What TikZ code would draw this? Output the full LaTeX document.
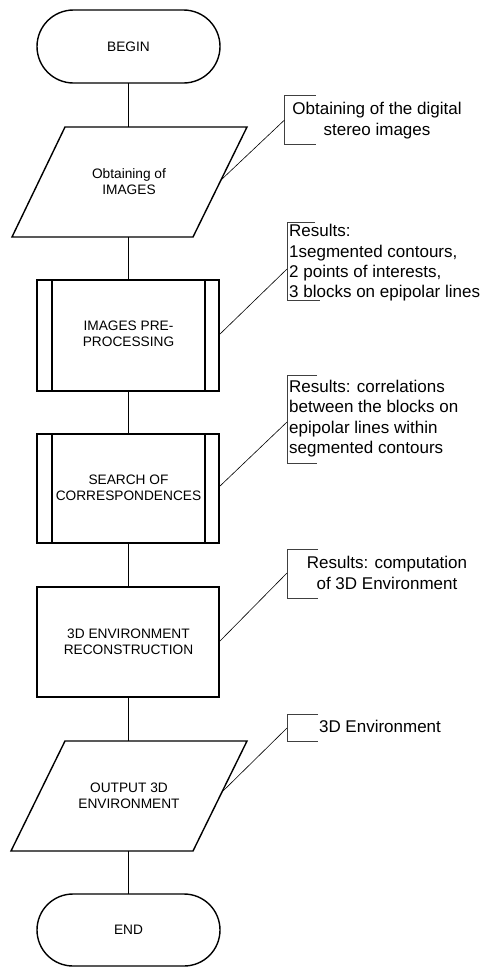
\documentclass[tikz,border=0pt]{standalone}
\usepackage{fontspec}
\setmainfont{Liberation Sans}
\begin{document}
\begin{tikzpicture}[x=1pt,y=-1pt,
  shapeline/.style={line width=1.4pt, line join=miter},
  flowline/.style={line width=1.4pt},
  leader/.style={line width=0.6pt},
  bracket/.style={line width=0.8pt, draw=black!75},
  flowtext/.style={font=\fontsize{13.7}{16}\selectfont, align=center, inner sep=0pt},
  notetext/.style={font=\fontsize{17}{20.3}\selectfont, inner sep=0pt}]
\useasboundingbox (0,0) rectangle (482,967);

% ---- BEGIN terminal
\draw[shapeline, rounded corners=36.5pt] (37,10) rectangle (220,83);
\node[flowtext] (begin) at (128.5,46.5) {BEGIN};
\coordinate (beginS) at (128.5,83);

% ---- input 1
\draw[shapeline] (65,127) -- (247,127) -- (193,237) -- (12,237) -- cycle;
\node[flowtext] (inp1) at (129,182) {Obtaining of\\IMAGES};
\coordinate (inp1N) at (128.5,127);
\coordinate (inp1S) at (128.5,237);
\coordinate (inp1E) at (221,180);

% ---- predefined process 1
\draw[shapeline] (37,280) rectangle (219,391);
\draw[shapeline] (52,280) -- (52,391) (205,280) -- (205,391);
\node[flowtext] (proc1) at (128.5,334) {IMAGES PRE-\\PROCESSING};
\coordinate (proc1N) at (128.5,280);
\coordinate (proc1S) at (128.5,391);
\coordinate (proc1E) at (219,335);

% ---- predefined process 2
\draw[shapeline] (37,434) rectangle (219,543);
\draw[shapeline] (52,434) -- (52,543) (205,434) -- (205,543);
\node[flowtext] (proc2) at (128.5,488) {SEARCH OF\\CORRESPONDENCES};
\coordinate (proc2N) at (128.5,434);
\coordinate (proc2S) at (128.5,543);
\coordinate (proc2E) at (219,487);

% ---- process 3
\draw[shapeline] (37,587) rectangle (219,697);
\node[flowtext] (proc3) at (128.5,642) {3D ENVIRONMENT\\RECONSTRUCTION};
\coordinate (proc3N) at (128.5,587);
\coordinate (proc3S) at (128.5,697);
\coordinate (proc3E) at (219,642);

% ---- output
\draw[shapeline] (65,741) -- (247,741) -- (193,851) -- (11,851) -- cycle;
\node[flowtext] (out) at (129,796) {OUTPUT 3D\\ENVIRONMENT};
\coordinate (outN) at (128.5,741);
\coordinate (outS) at (128.5,851);
\coordinate (outE) at (222,792);

% ---- END terminal
\draw[shapeline, rounded corners=36pt] (37,894) rectangle (220,966);
\node[flowtext] (end) at (128.5,930) {END};
\coordinate (endN) at (128.5,894);

% ---- flow connectors
\draw[flowline] (beginS) -- (inp1N);
\draw[flowline] (inp1S) -- (proc1N);
\draw[flowline] (proc1S) -- (proc2N);
\draw[flowline] (proc2S) -- (proc3N);
\draw[flowline] (proc3S) -- (outN);
\draw[flowline] (outS) -- (endN);

% ---- annotations
% 1
\draw[bracket] (315.5,95.7) -- (284.5,95.7) -- (284.5,144) -- (315.5,144);
\coordinate (n1) at (284.5,120);
\node[notetext, align=center] (t1) at (377,120.5) {Obtaining of the digital\\stereo images};
\draw[leader] (inp1E) -- (n1);
% 2
\draw[bracket] (315,222) -- (287,222) -- (287,300) -- (320,300);
\coordinate (n2) at (287,269);
\node[notetext, align=left, anchor=west] (t2) at (289,263) {Results:\\1segmented contours,\\2 points of interests,\\3 blocks on epipolar lines};
\draw[leader] (proc1E) -- (n2);
% 3
\draw[bracket] (317,375) -- (287,375) -- (287,463) -- (317,463);
\coordinate (n3) at (287,422);
\node[notetext, align=left, anchor=west] (t3) at (289,418.5) {Results: correlations\\between the blocks on\\epipolar lines within\\segmented contours};
\draw[leader] (proc2E) -- (n3);
% 4
\draw[bracket] (318,549) -- (287,549) -- (287,598) -- (318,598);
\coordinate (n4) at (287,573);
\node[notetext, align=center] (t4) at (387,573) {Results: computation\\of 3D Environment};
\draw[leader] (proc3E) -- (n4);
% 5
\draw[bracket] (318,714) -- (287,714) -- (287,741) -- (318,741);
\coordinate (n5) at (287,728);
\node[notetext, align=center] (t5) at (380,726) {3D Environment};
\draw[leader] (outE) -- (n5);
\end{tikzpicture}
\end{document}
